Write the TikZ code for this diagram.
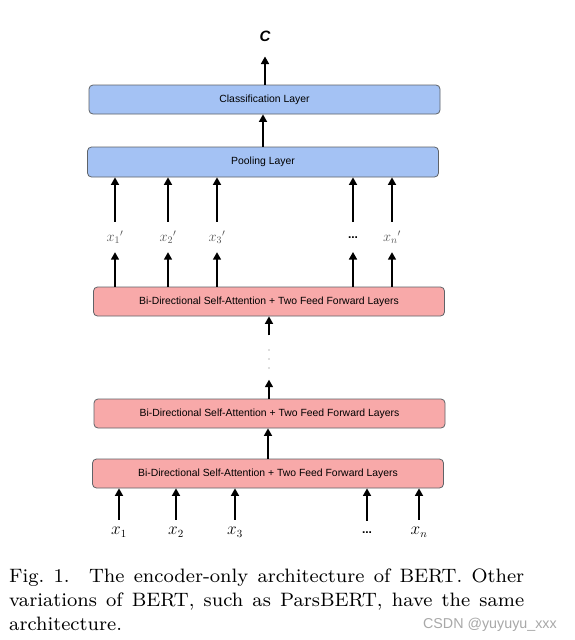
\documentclass[tikz,border=0pt]{standalone}
\usepackage{amsmath}
\usepackage{fontspec}
\setsansfont{Liberation Sans}
\newfontfamily\capfont{lmroman8-regular.otf}
\usepackage{xcolor}
\usetikzlibrary{arrows.meta,calc}
\definecolor{layerblue}{HTML}{A4C2F4}
\definecolor{layerpink}{HTML}{F8A9A9}
\definecolor{edge}{HTML}{5F6368}
\definecolor{hidden}{HTML}{555555}
\definecolor{wmgray}{HTML}{A8A8A8}
\tikzset{
  layer/.style={draw=edge, line width=0.8pt, rounded corners=4pt, minimum width=351pt,
    minimum height=29pt, inner sep=0pt, font=\fontsize{10.4}{12}\sffamily},
  head/.style={layer, fill=layerblue},
  enc/.style={layer, fill=layerpink},
  arr/.style={-{Triangle[length=7.5pt,width=8pt]}, line width=1.6pt},
  tok/.style={inner sep=0pt, minimum height=24pt, font=\fontsize{16}{18}\selectfont},
  hid/.style={inner sep=0pt, minimum height=30pt, font=\fontsize{14}{15}\selectfont, text=hidden},
  dots/.style={inner sep=0pt, font=\fontsize{12}{14}\sffamily\bfseries}
}

\begin{document}
\begin{tikzpicture}[x=1pt, y=-1pt]
\fill[white] (0,0) rectangle (574,640);
\useasboundingbox (0,0) rectangle (574,640);

% output
\node[inner sep=0pt, font=\fontsize{15}{17}\sffamily\bfseries\itshape] (out) at (265,36) {C};
\node[head] (cls) at (264.5,99.5) {Classification Layer};
\node[head, minimum height=30pt] (pool) at (263,162) {Pooling Layer};
\draw[arr, shorten >=15pt] (out.south |- cls.north) -- (out.south);
\draw[arr] (pool.north) -- (pool.north |- cls.south);

% encoder stack
\node[enc] (enc3) at (269,301.5) {Bi-Directional Self-Attention + Two Feed Forward Layers};
\node[enc] (enc2) at (269.5,413.5) {Bi-Directional Self-Attention + Two Feed Forward Layers};
\node[enc] (enc1) at (268,473.5) {Bi-Directional Self-Attention + Two Feed Forward Layers};
\node[inner sep=0pt, minimum width=2pt, minimum height=44pt] (vd) at (269,357.5) {};
\foreach \y in {350,359,368}
  \fill[black!55] (269,\y) circle (0.6pt);
\draw[arr] (vd.south |- enc2.north) -- (vd.south);
\draw[arr] (vd.north) -- (vd.north |- enc3.south);
\draw[arr] (enc1.north) -- (enc1.north |- enc2.south);

% hidden states
\foreach \n/\x/\t in {h1/115/${x_1}'$, h2/168/${x_2}'$, h3/217/${x_3}'$, hn/392/${x_n}'$} {
  \node[hid] (\n) at (\x,237) {\t};
  \draw[arr] (\n.south |- enc3.north) -- (\n.south);
  \draw[arr] (\n.north) -- (\n.north |- pool.south);
}
\node[dots, minimum height=30pt, text depth=0pt] (hd) at (353,238) {...};
\draw[arr] (hd.south |- enc3.north) -- (353,252);
\draw[arr] (353,222) -- (hd.north |- pool.south);

% inputs
\foreach \n/\x/\t in {t1/119/$x_1$, t2/176/$x_2$, t3/235/$x_3$, tn/419/$x_n$} {
  \node[tok] (\n) at (\x,532) {\t};
  \draw[arr] (\n.north) -- (\n.north |- enc1.south);
}
\node[dots, minimum height=24pt] (td) at (367,533) {...};
\draw[arr] (td.north) -- (td.north |- enc1.south);

% caption
\node[anchor=north west, inner sep=0pt, text width=515pt, align=justify,
  font=\capfont\fontsize{19.4}{23.8}\selectfont] (cap) at (9,569)
  {Fig.~1.\quad The encoder-only architecture of BERT. Other variations of BERT, such as ParsBERT, have the same architecture.};
\node[anchor=base east, inner sep=0pt, font=\fontsize{14.3}{16}\sffamily, text=wmgray] (wm) at (557,628) {CSDN @yuyuyu\_xxx};
\end{tikzpicture}
\end{document}
